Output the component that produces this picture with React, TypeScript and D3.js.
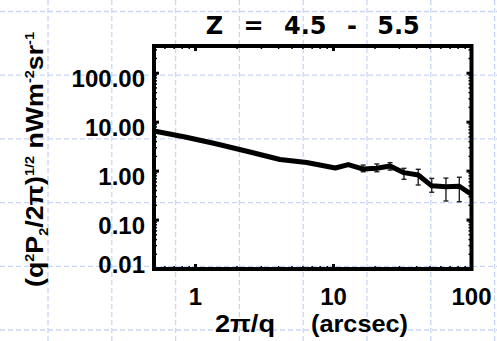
import React from "react";
import * as d3 from "d3";

const W = 497;
const H = 341;

// data
const scaleArcsec = [0.5, 0.84, 1.38, 2.48, 4.09, 6.39, 10.3, 12.8, 16.4, 20.6, 25.7, 32.4, 41.1, 51.5, 65.3, 81.6, 99];
const fluctuation = [6.6, 4.98, 3.66, 2.46, 1.73, 1.5, 1.16, 1.36, 1.1, 1.14, 1.27, 0.93, 0.83, 0.5, 0.48, 0.49, 0.34];
const errX = [16.4, 20.6, 25.7, 32.4, 41.1, 51.5, 65.3, 81.6];
const errLow = [0.97, 0.97, 1.05, 0.68, 0.52, 0.37, 0.245, 0.237];
const errHigh = [1.33, 1.4, 1.49, 1.14, 1.09, 0.71, 0.72, 0.75];

const xTicks = [1, 10, 100];
const xTickLabels = ["1", "10", "100"];
const yTicks = [0.01, 0.1, 1, 10, 100];
const yTickLabels = ["0.01", "0.10", "1.00", "10.00", "100.00"];
const xMinor = [0.6, 0.7, 0.8, 0.9, 2, 3, 4, 5, 6, 7, 8, 9, 20, 30, 40, 50, 60, 70, 80, 90];
const yMinor = [0.02, 0.03, 0.04, 0.05, 0.06, 0.07, 0.08, 0.09, 0.2, 0.3, 0.4, 0.5, 0.6, 0.7, 0.8, 0.9, 2, 3, 4, 5, 6, 7, 8, 9, 20, 30, 40, 50, 60, 70, 80, 90, 200, 300];

const title = "Z = 4.5 - 5.5";

export default function App() {
  const left = 154, right = 471.5, top = 46, bottom = 269;
  const x = d3.scaleLog().domain([0.5, 100]).range([left, right]);
  const y = d3.scaleLog().domain([0.01, 360]).range([bottom, top]);

  const line = d3
    .line<number>()
    .x((_, i) => x(scaleArcsec[i]))
    .y((d) => y(d));

  const gx = d3.range(-1, 8).map((k) => 48 + 63.8 * k);
  const gy = d3.range(0, 6).map((k) => 11.5 + 63.7 * k);

  const tickFont = "'Liberation Sans', Arial, sans-serif";

  return (
    <svg
      width={W}
      height={H}
      style={{ position: "fixed", left: 0, top: 0, background: "#fff" }}
    >
      <rect x={0} y={0} width={W} height={H} fill="#fff" />
      {/* background dashed grid */}
      <g stroke="#c9d5f2" strokeWidth={1.3} strokeDasharray="5,3">
        {gx.map((v, i) => (
          <line key={"gx" + i} x1={v} x2={v} y1={0} y2={H} />
        ))}
        {gy.map((v, i) => (
          <line key={"gy" + i} x1={0} x2={W} y1={v} y2={v} />
        ))}
      </g>

      {/* title */}
      <text
        x={(left + right) / 2}
        y={34}
        textAnchor="middle"
        fontFamily="'DejaVu Sans', sans-serif"
        fontWeight="bold"
        fontSize={24}
        wordSpacing={12}
        style={{ whiteSpace: "pre" }}
      >
        {title}
      </text>

      {/* error bars */}
      <g stroke="#222" strokeWidth={1.4}>
        {errX.map((v, i) => (
          <g key={"e" + i}>
            <line x1={x(v)} x2={x(v)} y1={y(errLow[i])} y2={y(errHigh[i])} />
            <line x1={x(v) - 2.5} x2={x(v) + 2.5} y1={y(errLow[i])} y2={y(errLow[i])} />
            <line x1={x(v) - 2.5} x2={x(v) + 2.5} y1={y(errHigh[i])} y2={y(errHigh[i])} />
          </g>
        ))}
      </g>

      {/* data line */}
      <path
        d={line(fluctuation) || ""}
        fill="none"
        stroke="#000"
        strokeWidth={5}
        strokeLinejoin="round"
        strokeLinecap="butt"
      />

      {/* frame */}
      <rect
        x={left}
        y={top}
        width={right - left}
        height={bottom - top}
        fill="none"
        stroke="#000"
        strokeWidth={4}
      />

      {/* ticks */}
      <g stroke="#000" strokeWidth={3}>
        {xTicks.map((v, i) => (
          <g key={"xt" + i}>
            <line x1={x(v)} x2={x(v)} y1={bottom} y2={bottom - 5} />
            <line x1={x(v)} x2={x(v)} y1={top} y2={top + 5} />
          </g>
        ))}
        {yTicks.map((v, i) => (
          <g key={"yt" + i}>
            <line x1={left} x2={left + 5} y1={y(v)} y2={y(v)} />
            <line x1={right} x2={right - 5} y1={y(v)} y2={y(v)} />
          </g>
        ))}
      </g>
      <g stroke="#000" strokeWidth={1.5}>
        {xMinor.map((v, i) => (
          <g key={"xm" + i}>
            <line x1={x(v)} x2={x(v)} y1={bottom} y2={bottom - 3} />
            <line x1={x(v)} x2={x(v)} y1={top} y2={top + 3} />
          </g>
        ))}
        {yMinor.map((v, i) => (
          <g key={"ym" + i}>
            <line x1={left} x2={left + 3} y1={y(v)} y2={y(v)} />
            <line x1={right} x2={right - 3} y1={y(v)} y2={y(v)} />
          </g>
        ))}
      </g>

      {/* y tick labels */}
      {yTicks.map((v, i) => (
        <text
          key={"yl" + i}
          x={145}
          y={Math.min(y(v) + 5, bottom - 4.5) + 8.5}
          textAnchor="end"
          fontFamily={tickFont}
          fontWeight="bold"
          fontSize={24}
        >
          {yTickLabels[i]}
        </text>
      ))}

      {/* x tick labels */}
      {xTicks.map((v, i) => (
        <text
          key={"xl" + i}
          x={x(v)}
          y={305}
          textAnchor="middle"
          fontFamily={tickFont}
          fontWeight="bold"
          fontSize={24}
        >
          {xTickLabels[i]}
        </text>
      ))}

      {/* x axis title */}
      <text
        x={215}
        y={332}
        fontFamily={tickFont}
        fontWeight="bold"
        fontSize={24}
        textLength={60}
        lengthAdjust="spacingAndGlyphs"
      >
        2π/q
      </text>
      <text
        x={311}
        y={332}
        fontFamily={tickFont}
        fontWeight="bold"
        fontSize={24}
        textLength={97}
        lengthAdjust="spacingAndGlyphs"
      >
        (arcsec)
      </text>

      {/* y axis title */}
      <text
        transform={`translate(43,159.5) rotate(-90)`}
        textAnchor="middle"
        fontFamily={tickFont}
        fontWeight="bold"
        fontSize={24}
        textLength={255}
        lengthAdjust="spacingAndGlyphs"
      >
        (q<tspan dy={-9} fontSize={13}>2</tspan>
        <tspan dy={9}>P</tspan>
        <tspan dy={5} fontSize={13}>2</tspan>
        <tspan dy={-5}>/2π)</tspan>
        <tspan dy={-9} fontSize={13}>1/2</tspan>
        <tspan dy={9}> nWm</tspan>
        <tspan dy={-9} fontSize={13}>-2</tspan>
        <tspan dy={9}>sr</tspan>
        <tspan dy={-9} fontSize={13}>-1</tspan>
      </text>
    </svg>
  );
}
